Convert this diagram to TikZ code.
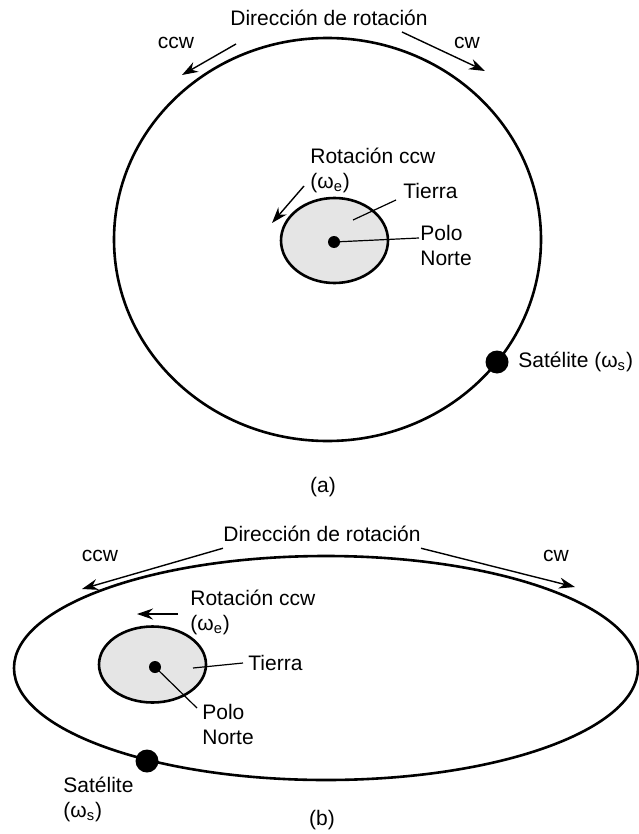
\documentclass[tikz,border=0pt]{standalone}
\usepackage{fontspec}
\setmainfont{Liberation Sans}
\usetikzlibrary{arrows.meta}

\begin{document}
\begin{tikzpicture}[
  x=0.5pt, y=-0.5pt,
  lbl/.style={inner sep=0pt,align=left,font=\fontsize{10.5}{12.5}\selectfont},
  orbit/.style={line width=1.3pt},
  earth/.style={draw,line width=1.3pt,fill=black!10},
  arr/.style={-{Stealth[length=8pt,width=5.5pt]},line width=0.7pt},
  lead/.style={line width=0.6pt},
  sat/.style={circle,fill=black,inner sep=0pt,minimum size=11.5pt},
  pole/.style={circle,fill=black,inner sep=0pt,minimum size=6pt}
]
\useasboundingbox (0,0) rectangle (638,834);

% ---- (a) circular orbit, Earth in the middle
\draw[orbit] (327.5,239.5) ellipse [x radius=213.5, y radius=201.5];
\draw[earth] (334.5,240.5) ellipse [x radius=53.5, y radius=42.5];

\node[lbl] (dira) at (329,18) {Dirección de rotación};
\node[lbl] (ccwa) at (176,43) {ccw};
\node[lbl] (cwa) at (467,43) {cw};
\coordinate (ccwa0) at (236,44);
\coordinate (ccwa1) at (182,75);
\coordinate (cwa0) at (402,32);
\coordinate (cwa1) at (485,71);
\draw[arr] (ccwa0) -- (ccwa1);
\draw[arr] (cwa0) -- (cwa1);

\node[lbl,anchor=west] (rota) at (310,170) {Rotación ccw\\(ω\textsubscript{e})};
\coordinate (rota0) at (304,186);
\coordinate (rota1) at (272,223);
\draw[arr] (rota0) -- (rota1);

\node[pole] (polea) at (334,242) {};
\node[lbl,anchor=west] (tierraa) at (403,191) {Tierra};
\coordinate (tia) at (353,220);
\draw[lead] ([xshift=-3.5pt,yshift=-4.5pt]tierraa.west) -- (tia);
\node[lbl,anchor=west] (pna) at (420,245) {Polo\\Norte};
\draw[lead] (polea.center) -- ([xshift=-0.5pt,yshift=3.5pt]pna.west);

\node[sat] (sata) at (497,362) {};
\node[lbl,anchor=west] (satlbla) at (518,362) {Satélite (ω\textsubscript{s})};

\node[lbl] (capa) at (323,487) {(a)};

% ---- (b) elliptical orbit, Earth off to the left
\draw[orbit] (326,668) ellipse [x radius=312, y radius=112];
\draw[earth] (152.5,664.5) ellipse [x radius=53.5, y radius=38];

\node[lbl] (dirb) at (322,534) {Dirección de rotación};
\node[lbl] (ccwb) at (100,556) {ccw};
\node[lbl] (cwb) at (556,556) {cw};
\coordinate (ccwb1) at (82,589);
\coordinate (cwb1) at (575,587);
\draw[arr] ([yshift=-3pt]dirb.south west) -- (ccwb1);
\draw[arr] ([yshift=-3pt]dirb.south east) -- (cwb1);

\node[lbl,anchor=west] (rotb) at (190,612) {Rotación ccw\\(ω\textsubscript{e})};
\coordinate (rotb0) at (178,614);
\coordinate (rotb1) at (137,614);
\draw[arr] (rotb0) -- (rotb1);

\node[pole] (poleb) at (155,667) {};
\node[lbl,anchor=west] (tierrab) at (248,663) {Tierra};
\coordinate (tib) at (193,668);
\draw[lead] ([xshift=-2.5pt]tierrab.west) -- (tib);
\node[lbl,anchor=west] (pnb) at (202,724) {Polo\\Norte};
\draw[lead] (poleb.center) -- ([xshift=-2.5pt,yshift=8pt]pnb.west);

\node[sat] (satb) at (147,761) {};
\node[lbl,anchor=west] (satlblb) at (63,799.5) {Satélite\\(ω\textsubscript{s})};

\node[lbl] (capb) at (322,820) {(b)};
\end{tikzpicture}
\end{document}
